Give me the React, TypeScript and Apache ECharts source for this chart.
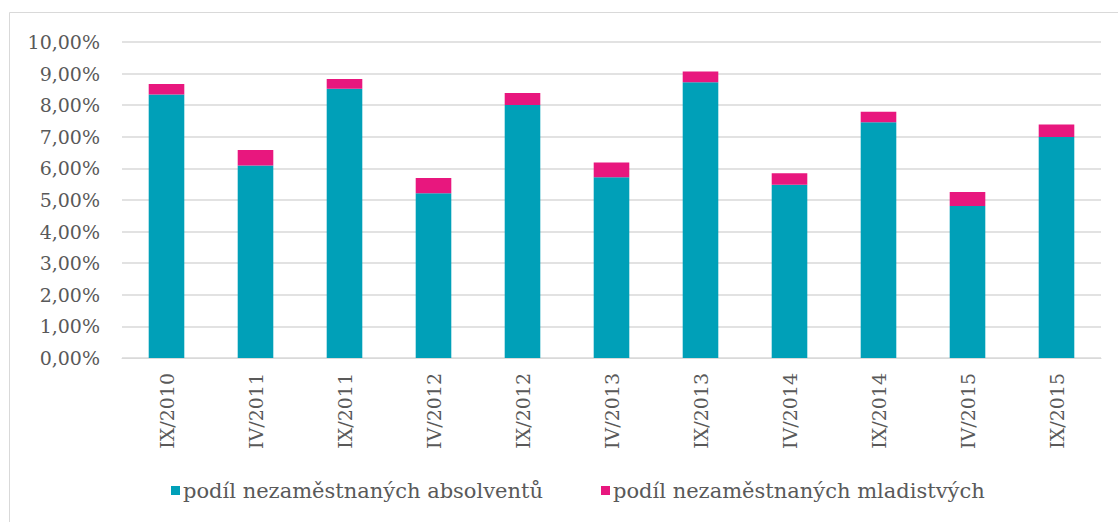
import React, { useEffect, useRef } from "react";
import * as echarts from "echarts";

const categories = ["IX/2010", "IV/2011", "IX/2011", "IV/2012", "IX/2012", "IV/2013", "IX/2013", "IV/2014", "IX/2014", "IV/2015", "IX/2015"];
const absolventi = [8.34, 6.09, 8.52, 5.21, 8.01, 5.72, 8.73, 5.48, 7.46, 4.81, 6.99];
const mladistvi = [0.33, 0.49, 0.31, 0.49, 0.38, 0.47, 0.34, 0.37, 0.33, 0.44, 0.40];
const seriesNames = ["podíl nezaměstnaných absolventů", "podíl nezaměstnaných mladistvých"];

const FONT = "DejaVu Serif";
const TXT = "#595959";

export default function App() {
  const ref = useRef<HTMLDivElement>(null);
  useEffect(() => {
    if (!ref.current) return;
    const chart = echarts.init(ref.current, undefined, { renderer: "svg" });
    chart.setOption({
      animation: false,
      backgroundColor: "#ffffff",
      textStyle: { fontFamily: FONT },
      graphic: [
        {
          type: "rect",
          shape: { x: 9.5, y: 12.5, width: 1300, height: 700 },
          style: { fill: "none", stroke: "#d9d9d9", lineWidth: 1 },
          silent: true,
        },
      ],
      grid: { left: 122, right: 17, top: 42, bottom: 164 },
      legend: {
        bottom: 16,
        left: 166,
        itemWidth: 9,
        itemHeight: 9,
        itemGap: 58,
        icon: "rect",
        textStyle: { fontFamily: FONT, fontSize: 21, color: TXT, padding: [0, 0, 0, -2] },
        data: seriesNames,
      },
      xAxis: {
        type: "category",
        data: categories,
        axisLine: { lineStyle: { color: "#d9d9d9", width: 1 } },
        axisTick: { show: false },
        axisLabel: { rotate: 90, margin: 15, fontFamily: FONT, fontSize: 19, color: TXT },
      },
      yAxis: {
        type: "value",
        min: 0,
        max: 10,
        interval: 1,
        axisLine: { show: false },
        axisTick: { show: false },
        splitLine: { lineStyle: { color: "#d9d9d9", width: 1.5 } },
        axisLabel: {
          margin: 22,
          fontFamily: FONT,
          fontSize: 19,
          color: TXT,
          formatter: (v: number) => v.toFixed(2).replace(".", ",") + "%",
        },
      },
      series: [
        {
          name: seriesNames[0],
          type: "bar",
          stack: "s",
          data: absolventi,
          barWidth: "40%",
          itemStyle: { color: "#00A0B8" },
        },
        {
          name: seriesNames[1],
          type: "bar",
          stack: "s",
          data: mladistvi,
          barWidth: "40%",
          itemStyle: { color: "#E8177E" },
        },
      ],
    });
    return () => chart.dispose();
  }, []);
  return <div ref={ref} style={{ position: "absolute", left: 0, top: 0, width: 1118, height: 522 }} />;
}
